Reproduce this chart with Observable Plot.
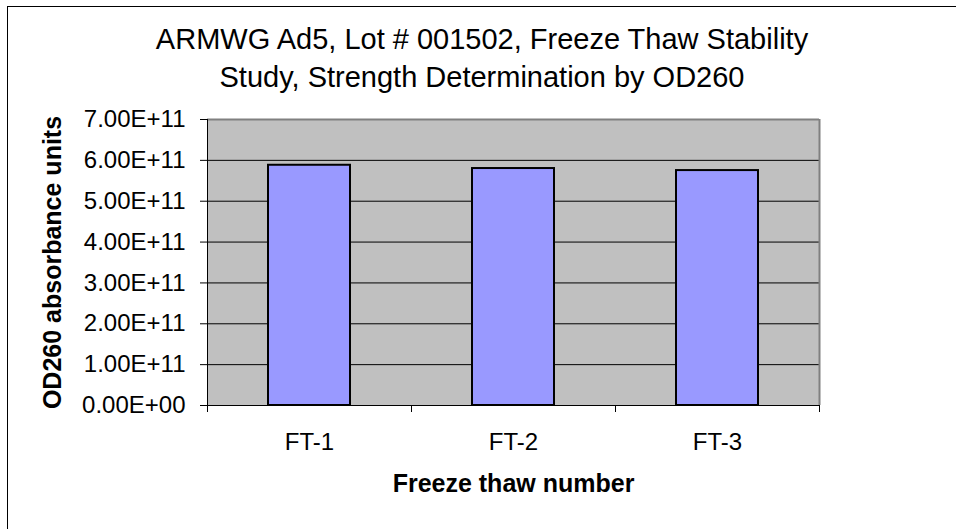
<!DOCTYPE html>
<html><head><meta charset="utf-8">
<script src="https://cdn.jsdelivr.net/npm/d3@7"></script>
<script src="https://cdn.jsdelivr.net/npm/@observablehq/plot@0.6"></script>
<style>
html,body{margin:0;padding:0;background:#fff;overflow:hidden;width:956px;height:529px;}
#title{box-sizing:border-box;height:100px;width:956px;padding:20px 0 0 8px;text-align:center;font-family:"Liberation Sans",Arial,sans-serif;font-size:29px;line-height:38px;color:#000;}
#chart svg{display:block}
#border{position:absolute;left:7px;top:6px;width:2000px;height:2000px;border-left:1px solid #000;border-top:1px solid #000;pointer-events:none}
</style></head><body>
<div id="title">ARMWG Ad5, Lot # 001502, Freeze Thaw Stability<br>Study, Strength Determination by OD260</div>
<div id="chart"></div>
<div id="border"></div>
<script>
const categories = ["FT-1", "FT-2", "FT-3"];
const values = [5.88e11, 5.80e11, 5.75e11];
const yTicks = [0, 1e11, 2e11, 3e11, 4e11, 5e11, 6e11, 7e11];
const yTickLabels = ["0.00E+00", "1.00E+11", "2.00E+11", "3.00E+11", "4.00E+11", "5.00E+11", "6.00E+11", "7.00E+11"];
const xTitle = "Freeze thaw number";
const yTitle = "OD260 absorbance units";

const data = categories.map((c, i) => ({category: c, value: values[i]}));
const yMax = yTicks[yTicks.length - 1];

const W = 956, H = 429;
const mL = 207, mR = 137, mT = 19, mB = 124;
const padIn = 0.6, padOut = 0.3;
const step = (W - mL - mR) / (categories.length - padIn + 2 * padOut);
const font = "'Liberation Sans', Arial, sans-serif";

const chart = Plot.plot({
  width: W, height: H,
  marginLeft: mL, marginRight: mR, marginTop: mT, marginBottom: mB,
  style: {fontFamily: font, fontSize: "24px", background: "transparent", color: "#000"},
  x: {type: "band", domain: categories, paddingInner: padIn, paddingOuter: padOut},
  y: {domain: [0, yMax]},
  marks: [
    Plot.frame({fill: "#c0c0c0"}),
    Plot.ruleY(yTicks.filter(d => d > 0 && d < yMax), {stroke: "#000", strokeWidth: 1}),
    Plot.ruleY([yMax], {stroke: "#808080", strokeWidth: 2}),
    Plot.ruleX([categories[categories.length - 1]], {dx: step / 2, y1: yMax, y2: 0, stroke: "#808080", strokeWidth: 2}),
    Plot.ruleY([0], {stroke: "#000", strokeWidth: 1}),
    Plot.barY(data, {x: "category", y: "value", fill: "#9999ff", stroke: "#000", strokeWidth: 2}),
    Plot.ruleX([categories[0]], {dx: -step / 2, y1: yMax, y2: 0, insetBottom: -7, stroke: "#000", strokeWidth: 1}),
    Plot.ruleX(categories, {dx: step / 2, y1: 0, y2: 0, insetBottom: -7, stroke: "#000", strokeWidth: 1}),
    Plot.axisY(yTicks, {tickSize: 7, tickPadding: 15, tickFormat: d => yTickLabels[yTicks.indexOf(d)], fontSize: 24, label: null, stroke: "#000"}),
    Plot.axisX({tickSize: 0, tickPadding: 27, fontSize: 24, label: null}),
    Plot.text([xTitle], {frameAnchor: "bottom", dy: 86, lineAnchor: "bottom", textAnchor: "middle", fontSize: 25, fontWeight: "bold", fill: "#000"}),
    Plot.text([yTitle], {frameAnchor: "left", rotate: -90, dx: -164, lineAnchor: "top", textAnchor: "middle", fontSize: 25, fontWeight: "bold", fill: "#000"})
  ]
});
document.getElementById("chart").appendChild(chart);
</script>
</body></html>
